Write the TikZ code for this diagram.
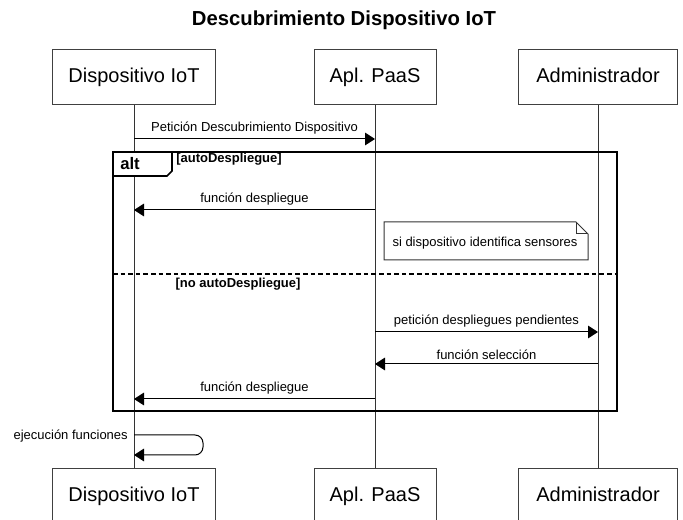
\documentclass[tikz,border=0pt]{standalone}
\usepackage{fontspec}
\setmainfont{Liberation Sans}
\usetikzlibrary{arrows.meta}

\tikzset{
  actor/.style={draw=black!75, line width=0.75pt, minimum height=41.25pt, inner sep=0pt, text height=10.8pt, text depth=3.2pt, font=\fontsize{15}{18}\selectfont},
  lifeline/.style={line width=0.75pt, black!80},
  msg/.style={-{Triangle[length=7.5pt,width=9.5pt]}, line width=0.75pt},
  msglabel/.style={inner sep=0.75pt, font=\fontsize{9.75}{12}\selectfont},
  guard/.style={inner sep=0.75pt, font=\fontsize{9.75}{12}\selectfont\bfseries},
}

\begin{document}
\begin{tikzpicture}[x=0.75pt,y=0.75pt,yscale=-1,xscale=1]
\useasboundingbox (0,0) rectangle (683,520);

% Text Node
\node (title) at (344,20) {\fontsize{15.2}{18}\selectfont\bfseries Descubrimiento Dispositivo IoT};

%Shape: Rectangle (participants, top)
\node [actor, minimum width=122.25pt] (devtop) at (134,77.5) {Dispositivo IoT};
\node [actor, minimum width=91.5pt] (apltop) at (375,77.5) {Apl. PaaS};
\node [actor, minimum width=119.25pt] (admtop) at (598,77.5) {Administrador};
%Shape: Rectangle (participants, bottom)
\node [actor, minimum width=122.25pt] (devbot) at (134,496) {Dispositivo IoT};
\node [actor, minimum width=91.5pt] (aplbot) at (375,496) {Apl. PaaS};
\node [actor, minimum width=119.25pt] (admbot) at (598,496) {Administrador};

%Straight Lines (lifelines)
\draw [lifeline] (devtop) -- (devbot);
\draw [lifeline] (apltop) -- (aplbot);
\draw [lifeline] (admtop) -- (admbot);

%Shape: Frame alt
\filldraw [fill=white, line width=1.2pt] (113,152) -- (113,176) -- (167,176) -- (172,171) -- (172,152) -- cycle;
\draw [line width=1.5pt] (113,152) rectangle (617,411);
\node [inner sep=0.75pt, font=\fontsize{12.5}{14}\selectfont\bfseries] (alt) at (130,164) {alt};
\node [guard, anchor=west] (g1) at (175,159) {[autoDespliegue]};
%Straight Lines (separator)
\draw [line width=1.2pt, dash pattern=on 3.5pt off 2.2pt] (113,274) -- (617,274);
\node [guard] (g2) at (238,284) {[no autoDespliegue]};

%Straight Lines (messages)
\coordinate (m1a) at (134,139); \coordinate (m1b) at (375,139);
\draw [msg] (m1a) -- (m1b) node [msglabel, midway, above=2.5pt] (m1) {Petición Descubrimiento Dispositivo};
\coordinate (m2a) at (375,210); \coordinate (m2b) at (134,210);
\draw [msg] (m2a) -- (m2b) node [msglabel, midway, above=2.5pt] (m2) {función despliegue};

%Shape: Note
\draw [line width=0.75pt, black!80] (384,222) -- (576,222) -- (588,234) -- (588,260) -- (384,260) -- cycle;
\draw [line width=0.75pt, black!80] (576,222) -- (576,234) -- (588,234);
\node [msglabel] (note) at (485,243) {si dispositivo identifica sensores};

\coordinate (m3a) at (375,332); \coordinate (m3b) at (598,332);
\draw [msg] (m3a) -- (m3b) node [msglabel, midway, above=2.5pt] (m3) {petición despliegues pendientes};
\coordinate (m4a) at (598,364); \coordinate (m4b) at (375,364);
\draw [msg] (m4a) -- (m4b) node [msglabel, midway, above=2.5pt] (m4) {función selección};
\coordinate (m5a) at (375,399); \coordinate (m5b) at (134,399);
\draw [msg] (m5a) -- (m5b) node [msglabel, midway, above=2.5pt] (m5) {función despliegue};

%Straight Lines (self message)
\coordinate (s1a) at (134,435); \coordinate (s1b) at (134,455);
\draw [msg, rounded corners=6pt] (s1a) -- (203,435) -- (203,455) -- (s1b);
\node [msglabel, anchor=east] (s1) at (129,436) {ejecución funciones};

\end{tikzpicture}
\end{document}
